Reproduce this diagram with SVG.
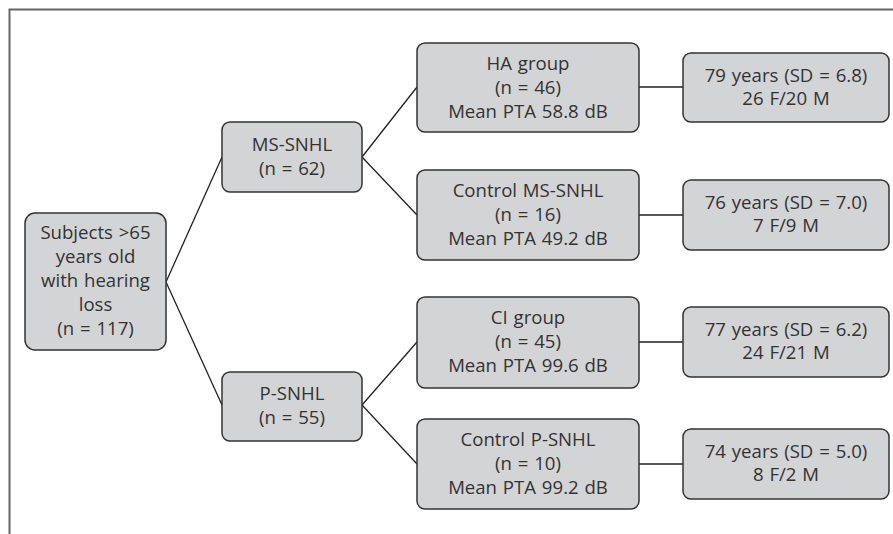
<svg xmlns="http://www.w3.org/2000/svg" width="893" height="534" viewBox="0 0 893 534">
<style>
.box{fill:#d3d4d6;stroke:#333;stroke-width:1.5}
.t{font-family:"Open Sans","Noto Sans",sans-serif;font-size:18.6px;fill:#333;text-anchor:middle;word-spacing:1px}
.c{stroke:#222;stroke-width:1.3;fill:none}
</style>
<rect width="893" height="534" fill="#fff"/>
<path d="M9.5 534 V9.5 H893" fill="none" stroke="#666" stroke-width="2"/>
<g id="connectors">
<path class="c" d="M166 282 L222 157 M166 282 L222 405"/>
<path class="c" d="M362 157 L417 87 M362 157 L417 215"/>
<path class="c" d="M362 405 L417 342 M362 405 L417 464"/>
<path class="c" d="M639 87 H683 M639 215 H683 M639 342 H683 M639 464 H683"/>
</g>
<g id="root"><rect class="box" x="25" y="213" width="141" height="137" rx="10"/>
<text class="t"><tspan x="95.5" y="239">Subjects &gt;65</tspan><tspan x="95.5" y="263">years old</tspan><tspan x="95.5" y="287">with hearing</tspan><tspan x="95.5" y="311">loss</tspan><tspan x="95.5" y="335">(n = 117)</tspan></text></g>
<g id="ms"><rect class="box" x="222" y="122" width="140" height="70" rx="8"/>
<text class="t"><tspan x="292" y="151">MS-SNHL</tspan><tspan x="292" y="175">(n = 62)</tspan></text></g>
<g id="p"><rect class="box" x="222" y="372" width="140" height="69" rx="8"/>
<text class="t"><tspan x="292" y="400">P-SNHL</tspan><tspan x="292" y="424">(n = 55)</tspan></text></g>
<g id="ha"><rect class="box" x="417" y="43" width="222" height="89" rx="8"/>
<text class="t"><tspan x="528" y="70">HA group</tspan><tspan x="528" y="94">(n = 46)</tspan><tspan x="528" y="118">Mean PTA 58.8 dB</tspan></text></g>
<g id="cms"><rect class="box" x="417" y="170" width="222" height="90" rx="8"/>
<text class="t"><tspan x="528" y="197">Control MS-SNHL</tspan><tspan x="528" y="221">(n = 16)</tspan><tspan x="528" y="245">Mean PTA 49.2 dB</tspan></text></g>
<g id="ci"><rect class="box" x="417" y="297" width="222" height="91" rx="8"/>
<text class="t"><tspan x="528" y="324">CI group</tspan><tspan x="528" y="348">(n = 45)</tspan><tspan x="528" y="372">Mean PTA 99.6 dB</tspan></text></g>
<g id="cp"><rect class="box" x="417" y="419" width="222" height="90" rx="8"/>
<text class="t"><tspan x="528" y="446">Control P-SNHL</tspan><tspan x="528" y="470">(n = 10)</tspan><tspan x="528" y="494">Mean PTA 99.2 dB</tspan></text></g>
<g id="r1"><rect class="box" x="683" y="53" width="206" height="69" rx="8"/>
<text class="t"><tspan x="786" y="82">79 years (SD = 6.8)</tspan><tspan x="786" y="105">26 F/20 M</tspan></text></g>
<g id="r2"><rect class="box" x="683" y="180" width="206" height="70" rx="8"/>
<text class="t"><tspan x="786" y="209">76 years (SD = 7.0)</tspan><tspan x="786" y="232">7 F/9 M</tspan></text></g>
<g id="r3"><rect class="box" x="683" y="307" width="206" height="70" rx="8"/>
<text class="t"><tspan x="786" y="336">77 years (SD = 6.2)</tspan><tspan x="786" y="359">24 F/21 M</tspan></text></g>
<g id="r4"><rect class="box" x="683" y="429" width="206" height="70" rx="8"/>
<text class="t"><tspan x="786" y="458">74 years (SD = 5.0)</tspan><tspan x="786" y="481">8 F/2 M</tspan></text></g>
</svg>
